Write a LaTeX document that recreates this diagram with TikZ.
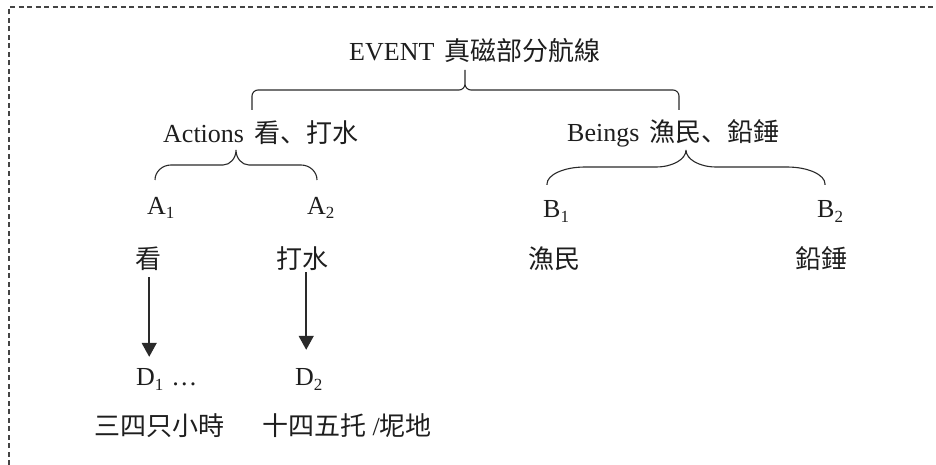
\documentclass[tikz,border=0pt]{standalone}
\usepackage{fontspec}
\setmainfont{Liberation Serif}
\newfontfamily\cjk{Noto Sans CJK SC}
\usetikzlibrary{arrows.meta}
\definecolor{ink}{HTML}{1E1E1E}
\definecolor{linec}{HTML}{2A2A2A}
\definecolor{framec}{HTML}{444444}
\newcommand{\sbs}[1]{\raisebox{-5pt}{\fontsize{17}{17}\selectfont #1}}
% xL xM xR yTip yH yEnd r1x ry r2x
\newcommand{\mybrace}[9]{%
 \draw[bracestyle] (#1,#6) -- (#1,{#5+#8}) .. controls (#1,{#5+0.45*#8}) and ({#1+0.45*#7},#5) .. ({#1+#7},#5)
 -- ({#2-#9},#5) .. controls ({#2-0.45*#9},#5) and (#2,{#5-0.45*#8}) .. (#2,{#5-#8}) -- (#2,#4)
 (#2,{#5-#8}) .. controls (#2,{#5-0.45*#8}) and ({#2+0.45*#9},#5) .. ({#2+#9},#5)
 -- ({#3-#7},#5) .. controls ({#3-0.45*#7},#5) and (#3,{#5+0.45*#8}) .. (#3,{#5+#8}) -- (#3,#6);}
\begin{document}
\begin{tikzpicture}[x=1pt,y=-1pt,
  txt/.style={inner sep=0pt, anchor=base west, text height=19pt, text depth=4pt,
    font=\fontsize{26}{30}\selectfont, text=ink},
  bracestyle/.style={draw=linec, line width=1.1pt},
  arr/.style={draw=linec, line width=1.5pt, -{Triangle[width=15pt,length=14pt]}},
  frame/.style={draw=framec, line width=1.3pt, dash pattern=on 5pt off 3.5pt}]
\useasboundingbox (0,0) rectangle (936,465);
\draw[frame] (9,465) -- (9,7) -- (936,7);

\node[txt] (event) at (349,61) {EVENT\hspace{0.4em}{\cjk 真磁部分航線}};
\node[txt] (actions) at (163,143) {Actions\hspace{0.4em}{\cjk 看、打水}};
\node[txt] (beings) at (567,142) {Beings\hspace{0.4em}{\cjk 漁民、鉛錘}};

\node[txt] (a1) at (147,214) {A\sbs{1}};
\node[txt] (a2) at (307,214) {A\sbs{2}};
\node[txt] (b1) at (543,217) {B\sbs{1}};
\node[txt] (b2) at (817,217) {B\sbs{2}};

\node[txt] (kan) at (135,268) {\cjk 看};
\node[txt] (dashui) at (276,268) {\cjk 打水};
\node[txt] (yumin) at (528,268) {\cjk 漁民};
\node[txt] (qianchui) at (795,268) {\cjk 鉛錘};

\node[txt] (d1) at (136,385) {D\sbs{1}\hspace{0.3em}…};
\node[txt] (d2) at (295,385) {D\sbs{2}};

\node[txt] (t1) at (94,435) {\cjk 三四只小時};
\node[txt] (t2) at (262,435) {{\cjk 十四五托} /{\cjk 坭地}};

\mybrace{252}{465}{679}{70}{90}{110}{6}{6}{6}
\mybrace{155}{236}{317}{150}{165}{180}{16}{15}{13}
\mybrace{547}{686}{825}{150}{167}{185}{38}{17}{30}

\draw[arr, shorten <=5pt, shorten >=9pt] ([xshift=1pt]kan.south) -- ([xshift=1pt]kan.south |- d1.north);
\draw[arr, shorten >=16pt] ([xshift=4pt]dashui.south) -- ([xshift=4pt]dashui.south |- d2.north);
\end{tikzpicture}
\end{document}
